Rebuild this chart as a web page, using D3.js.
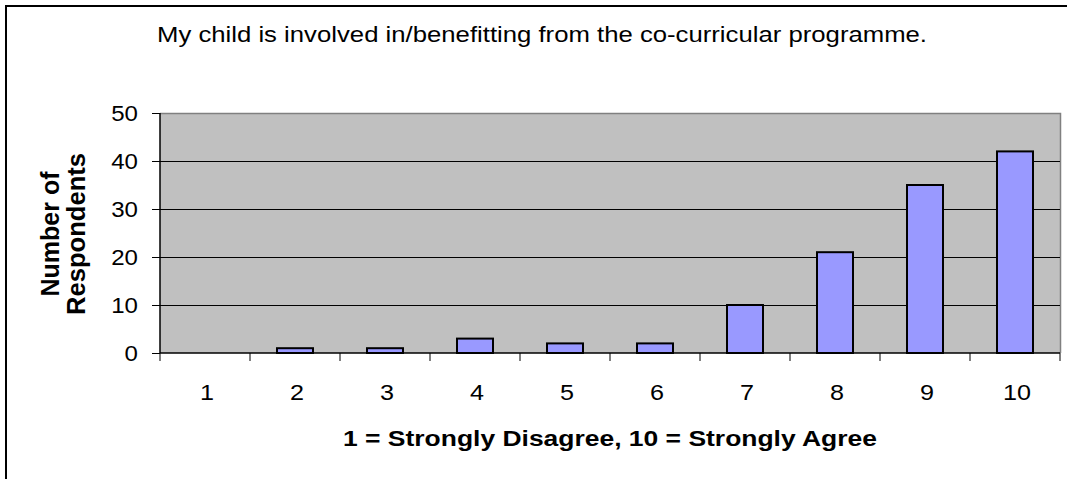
<!DOCTYPE html>
<html><head><meta charset="utf-8">
<script src="https://cdn.jsdelivr.net/npm/d3@7"></script>
<style>body{margin:0;background:#fff}svg{display:block;font-family:"Liberation Sans",Arial,sans-serif}</style>
</head><body><svg id="c" width="1067" height="479"></svg>
<script>
const categories = ["1","2","3","4","5","6","7","8","9","10"];
const values = [0,1,1,3,2,2,10,21,35,42];
const yTicks = [0,10,20,30,40,50];
const title = "My child is involved in/benefitting from the co-curricular programme.";
const xTitle = "1 = Strongly Disagree, 10 = Strongly Agree";
const yTitle = ["Number of","Respondents"];

const svg = d3.select("#c");
const L=160, R=1060, T=113, B=353;
svg.append("rect").attr("x",6).attr("y",6).attr("width",1100).attr("height",500)
  .attr("fill","#fff").attr("stroke","#000").attr("stroke-width",2);

const x = d3.scaleBand().domain(categories).range([L,R]).paddingInner(0.6).paddingOuter(0.3);
const xb = d3.scaleBand().domain(categories).range([L,R]);
const y = d3.scaleLinear().domain([0,50]).range([B,T]);

svg.append("rect").attr("x",L).attr("y",T).attr("width",R-L).attr("height",B-T).attr("fill","#c0c0c0");
svg.append("path").attr("d",`M${L},${T+0.5}H${R+0.5}V${B}`).attr("fill","none").attr("stroke","#808080").attr("stroke-width",1.5);

svg.append("g").selectAll("line").data(yTicks.filter(d=>d>0&&d<50)).join("line")
  .attr("x1",L).attr("x2",R).attr("y1",d=>Math.round(y(d))+0.5).attr("y2",d=>Math.round(y(d))+0.5)
  .attr("stroke","#000").attr("stroke-width",1);

svg.append("g").selectAll("rect").data(values).join("rect")
  .attr("x",(d,i)=>x(categories[i])).attr("width",x.bandwidth())
  .attr("y",d=>y(d)).attr("height",d=>B-y(d))
  .attr("fill","#9999ff").attr("stroke","#000").attr("stroke-width",2);

const ya = svg.append("g").attr("transform",`translate(${L},0)`)
  .call(d3.axisLeft(y).tickValues(yTicks).tickSize(8).tickFormat(""));
ya.select(".domain").attr("stroke","#000").attr("stroke-width",1.5).attr("d",`M0,${T}V${B}`);
svg.append("g").selectAll("text").data(yTicks).join("text")
  .attr("transform",d=>`translate(138,${y(d)+7.5}) scale(1.12,1)`)
  .attr("text-anchor","end").attr("font-size",21.5).text(d=>d);

const xa = svg.append("g").attr("transform",`translate(0,${B})`);
xa.append("line").attr("x1",L).attr("x2",R).attr("y1",0).attr("y2",0).attr("stroke","#000").attr("stroke-width",1.5);
xa.selectAll("line.t").data(d3.range(categories.length+1)).join("line").attr("class","t")
  .attr("x1",i=>L+i*xb.step()).attr("x2",i=>L+i*xb.step()).attr("y1",0).attr("y2",8).attr("stroke","#000");
xa.selectAll("text").data(categories).join("text")
  .attr("transform",d=>`translate(${xb(d)+xb.bandwidth()/2+2},47) scale(1.12,1)`)
  .attr("text-anchor","middle").attr("font-size",22.5).text(d=>d);

svg.append("text").attr("x",157).attr("y",42).attr("font-size",21.5)
  .attr("textLength",770).attr("lengthAdjust","spacingAndGlyphs").text(title);
svg.append("text").attr("x",343).attr("y",446).attr("font-size",22.5).attr("font-weight","bold")
  .attr("textLength",534).attr("lengthAdjust","spacingAndGlyphs").text(xTitle);
const yw = [125,162], yb = [59,85];
const yt = svg.append("text").attr("transform","translate(0,234) rotate(-90)").attr("font-size",25).attr("font-weight","bold");
yt.selectAll("tspan").data(yTitle).join("tspan")
  .attr("x",(d,i)=>-yw[i]/2).attr("y",(d,i)=>yb[i]).attr("textLength",(d,i)=>yw[i]).attr("lengthAdjust","spacingAndGlyphs").text(d=>d);
</script></body></html>
